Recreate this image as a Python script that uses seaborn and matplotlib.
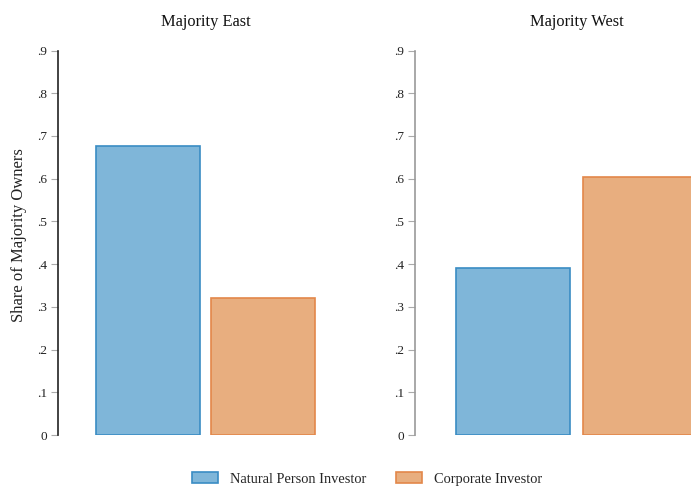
import matplotlib
matplotlib.use("Agg")
import matplotlib.pyplot as plt
import seaborn as sns
import pandas as pd
from matplotlib.patches import Patch

# ---- data ----
panels = ["Majority East", "Majority West"]
investors = ["Natural Person Investor", "Corporate Investor"]
east_share = [0.676, 0.320]
west_share = [0.391, 0.603]
yticks = [0, 0.1, 0.2, 0.3, 0.4, 0.5, 0.6, 0.7, 0.8, 0.9]
ytick_labels = ["0", ".1", ".2", ".3", ".4", ".5", ".6", ".7", ".8", ".9"]

fills = {"Natural Person Investor": "#7fb6d9", "Corporate Investor": "#e8ae7f"}
edges = {"Natural Person Investor": "#3a8cc4", "Corporate Investor": "#e3874a"}

sns.set_theme(style="white")
plt.rcParams["font.family"] = ["Liberation Serif", "DejaVu Serif"]

W, H = 691, 487
fig = plt.figure(figsize=(W / 100, H / 100), dpi=100)

bottom = (H - 435) / H
height = (435 - 50.5) / H
ax_specs = [
    (58, 354, -0.78, 1.79, "#222222"),
    (415, 738, -0.77, 1.77, "#999999"),
]
values = [east_share, west_share]

for (x0, x1, xl, xr, spine_col), title, vals in zip(ax_specs, panels, values):
    ax = fig.add_axes([x0 / W, bottom, (x1 - x0) / W, height])
    df = pd.DataFrame({"investor": investors, "share": vals})
    sns.barplot(data=df, x="investor", y="share", hue="investor",
                palette=fills, width=0.9, ax=ax, legend=False,
                saturation=1, linewidth=1.2)
    for p, inv in zip(ax.patches, investors):
        p.set_edgecolor(edges[inv])
    ax.set_xlim(xl, xr)
    ax.set_ylim(0, 0.9)
    ax.set_xticks([])
    ax.set_xlabel("")
    ax.set_ylabel("")
    ax.set_yticks(yticks)
    ax.set_yticklabels(ytick_labels, fontsize=9.5, color="#222222")
    ax.tick_params(axis="y", left=True, length=5, width=0.8, color="#aaaaaa", pad=3)
    for s in ["top", "right", "bottom"]:
        ax.spines[s].set_visible(False)
    ax.spines["left"].set_color(spine_col)
    ax.spines["left"].set_linewidth(1.2)
    ax.patch.set_alpha(0)
    fig.text((x0 + x1) / 2 / W, 1 - 22 / H, title, ha="center", va="center",
             fontsize=11.8, color="#111111")

fig.text(19 / W, 1 - 235 / H, "Share of Majority Owners", rotation=90,
         ha="center", va="center", fontsize=12, color="#222222")

handles = [Patch(facecolor=fills[i], edgecolor=edges[i], linewidth=1.2) for i in investors]
fig.legend(handles, investors, loc="center", bbox_to_anchor=(367 / W, 1 - 479 / H),
           ncol=2, frameon=False, fontsize=10.4, handlelength=1.8, handleheight=0.75,
           columnspacing=2.1, handletextpad=0.8)

fig.savefig("out.png", dpi=100)
